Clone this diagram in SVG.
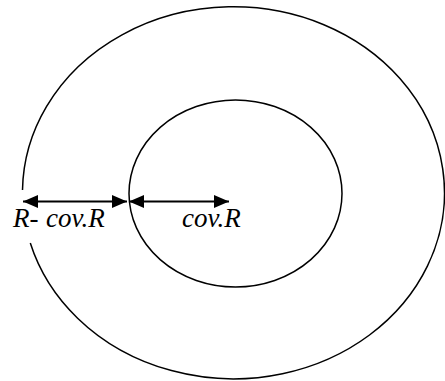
<svg xmlns="http://www.w3.org/2000/svg" width="445" height="381" viewBox="0 0 445 381">
<style>
.ring{fill:none;stroke:#000;stroke-width:1.5}
.dim{stroke:#000;stroke-width:2}
.lbl{font-family:"Liberation Serif","Times New Roman",serif;font-style:italic;font-size:27px;fill:#000}
</style>
<defs>
<marker id="ah" viewBox="0 0 15 13" refX="15" refY="6.5" markerWidth="15" markerHeight="13" markerUnits="userSpaceOnUse" orient="auto-start-reverse">
<path d="M0,0 L15,6.5 L0,13 Z" fill="#000"/>
</marker>
</defs>
<rect width="445" height="381" fill="#fff"/>
<g id="outer-circle">
<path class="ring" d="M22.5,190 A211,186 0 1 1 30.3,243"/>
</g>
<g id="inner-circle">
<ellipse class="ring" cx="235.5" cy="193.5" rx="106.5" ry="93.5"/>
</g>
<g id="connectors">
<line class="dim" x1="23" y1="201.5" x2="127" y2="201.5" marker-start="url(#ah)" marker-end="url(#ah)"/>
<line class="dim" x1="129" y1="201.5" x2="229" y2="201.5" marker-start="url(#ah)" marker-end="url(#ah)"/>
</g>
<g id="labels">
<text class="lbl" y="226.7"><tspan x="13">R-</tspan><tspan x="46">cov.R</tspan></text>
<text class="lbl" x="182" y="226.7">cov.R</text>
</g>
</svg>
